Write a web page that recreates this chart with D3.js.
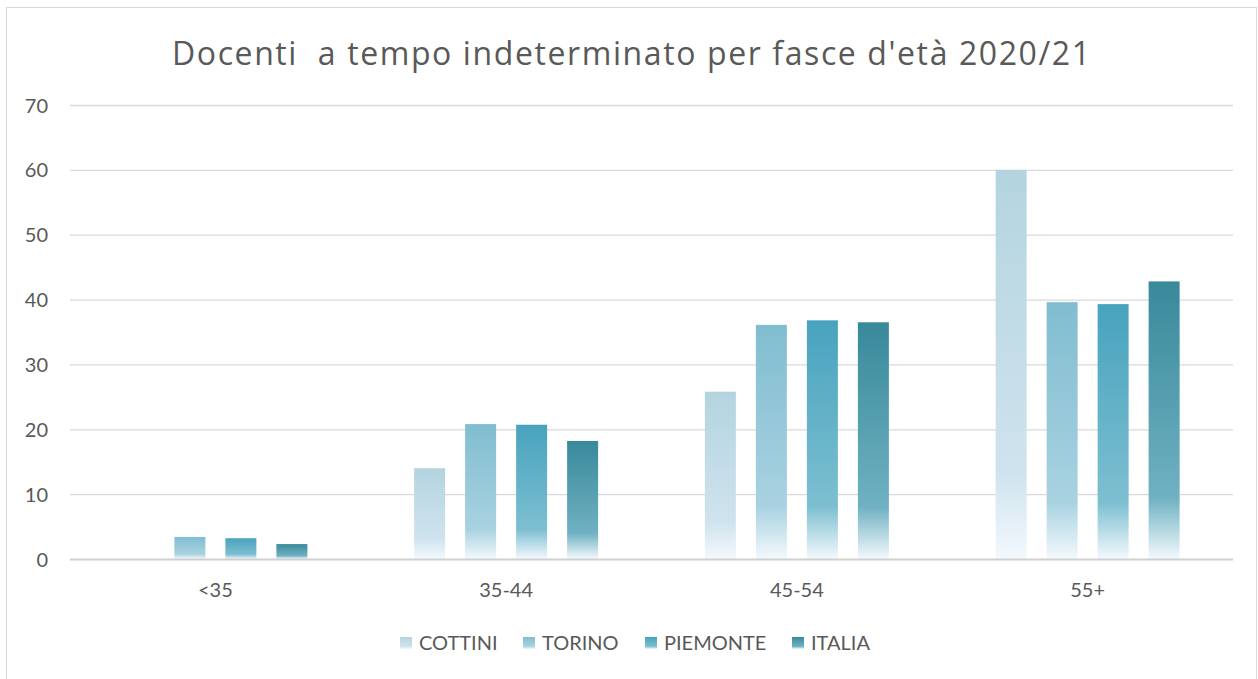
<!DOCTYPE html>
<html><head><meta charset="utf-8">
<script src="https://cdn.jsdelivr.net/npm/d3@7"></script>
<style>body{margin:0;background:#fff;} text{font-family:Lato,sans-serif;fill:#595959;}</style>
</head><body><svg id="c" width="1258" height="679"></svg>
<script>
const categories = ["<35","35-44","45-54","55+"];
const seriesNames = ["COTTINI","TORINO","PIEMONTE","ITALIA"];
const cottini = [0, 14.0, 25.8, 60.0];
const torino = [3.4, 20.8, 36.1, 39.6];
const piemonte = [3.2, 20.7, 36.8, 39.3];
const italia = [2.3, 18.2, 36.5, 42.8];
const yTicks = [0,10,20,30,40,50,60,70];
const title = "Docenti  a tempo indeterminato per fasce d'età 2020/21";

const seriesValues = [cottini, torino, piemonte, italia];
const colors = [
  {top:"#b3d4df", mid:"#cfe3ee", bot:"#f3f9fd"},
  {top:"#80bdd0", mid:"#a9d2e1", bot:"#f3f9fd"},
  {top:"#47a3bd", mid:"#7dbfd1", bot:"#f3f9fd"},
  {top:"#38899a", mid:"#6fb1c2", bot:"#f3f9fd"}
];

const svg = d3.select("#c");
svg.append("rect").attr("x",6.5).attr("y",7.5).attr("width",1250).attr("height",690)
  .attr("fill","#fff").attr("stroke","#d9d9d9").attr("stroke-width",1);

const defs = svg.append("defs");
colors.forEach((c,i)=>{
  const g = defs.append("linearGradient").attr("id","g"+i).attr("x1",0).attr("y1",0).attr("x2",0).attr("y2",1);
  g.append("stop").attr("offset","0%").attr("stop-color",c.top);
  g.append("stop").attr("offset","78%").attr("stop-color",c.mid);
  g.append("stop").attr("offset","100%").attr("stop-color",c.bot);
});

const x0 = d3.scaleBand().domain(categories).range([70,1233]);
const bw = x0.bandwidth();
const x1 = d3.scaleBand().domain(seriesNames).range([bw/2-102, bw/2+102]).paddingInner(20/51).paddingOuter(10/51);
const y = d3.scaleLinear().domain([0,70]).range([559,105]);

// gridlines
svg.append("g").selectAll("line").data(yTicks.filter(t=>t>0)).join("line")
  .attr("x1",70).attr("x2",1233).attr("y1",d=>y(d)+0.5).attr("y2",d=>y(d)+0.5)
  .attr("stroke","#d9d9d9").attr("stroke-width",1.3);

// y labels
const yAxis = d3.axisLeft(y).tickValues(yTicks).tickSize(0).tickPadding(0);
const ya = svg.append("g").attr("transform","translate(48,0)").call(yAxis);
ya.select(".domain").remove();
ya.selectAll("text").attr("font-size",20).style("font-family","Lato,sans-serif").attr("fill","#595959").attr("dy","0.35em");

// bars
const groups = svg.append("g").selectAll("g").data(categories).join("g")
  .attr("transform",d=>`translate(${x0(d)},0)`);
groups.selectAll("rect").data((d,ci)=>seriesNames.map((s,si)=>({s,si,v:seriesValues[si][ci]})))
  .join("rect")
  .attr("x",d=>x1(d.s)).attr("width",x1.bandwidth())
  .attr("y",d=>y(d.v)).attr("height",d=>y(0)-y(d.v))
  .attr("fill",d=>`url(#g${d.si})`);

// x axis line
svg.append("line").attr("x1",70).attr("x2",1233).attr("y1",559.5).attr("y2",559.5)
  .attr("stroke","#d0d0d0").attr("stroke-width",2);

const xAxis = d3.axisBottom(x0).tickSize(0).tickPadding(0);
const xa = svg.append("g").attr("transform","translate(0,590)").call(xAxis);
xa.select(".domain").remove();
xa.selectAll("text").attr("font-size",20).style("font-family","Lato,sans-serif").attr("fill","#595959").attr("dy","0.35em");

// title
svg.append("text").attr("x",172).attr("y",65)
  .attr("font-size",32).style("font-family","'Open Sans',sans-serif").style("white-space","pre")
  .attr("textLength",918).attr("lengthAdjust","spacing").text(title);

// legend
const legX = [400,523,645,792];
const lg = svg.append("g").selectAll("g").data(seriesNames).join("g")
  .attr("transform",(d,i)=>`translate(${legX[i]},643)`);
lg.append("rect").attr("x",0).attr("y",-6).attr("width",12).attr("height",12).attr("fill",(d,i)=>`url(#g${i})`);
lg.append("text").attr("x",19).attr("y",0).attr("dy","0.35em").attr("font-size",20).text(d=>d);
</script></body></html>
